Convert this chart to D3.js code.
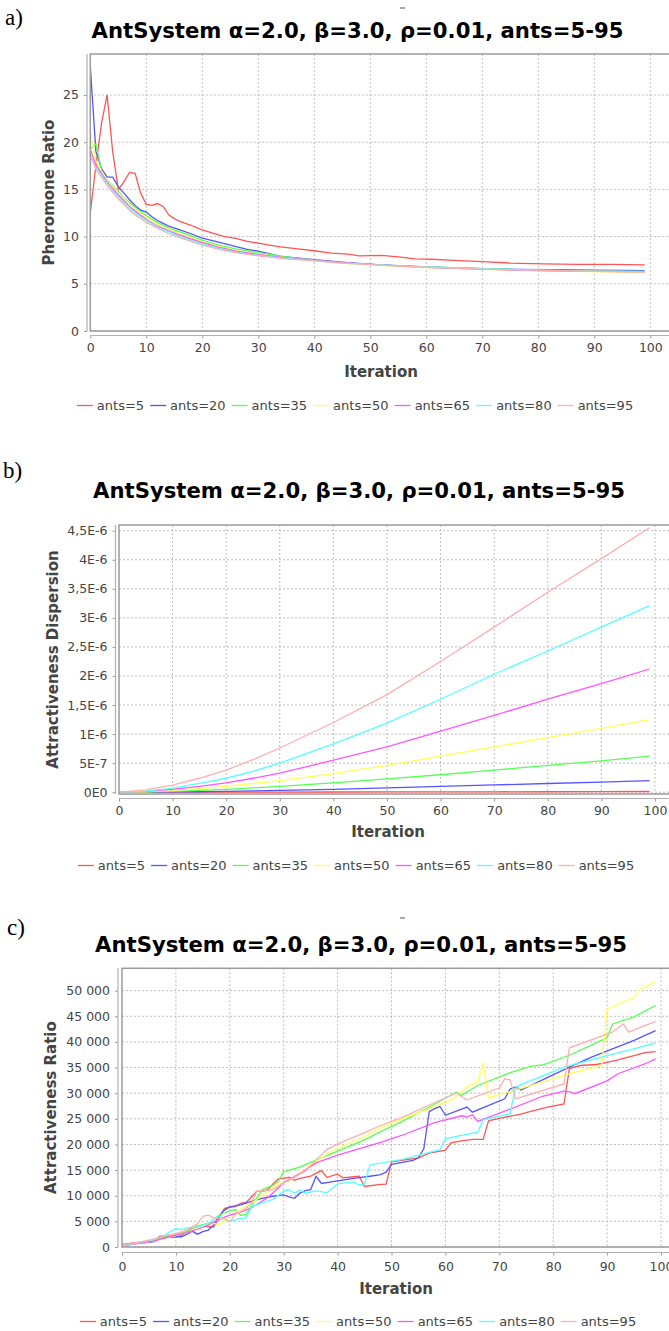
<!DOCTYPE html>
<meta charset="utf-8">
<script src="https://cdn.jsdelivr.net/npm/d3@7"></script>
<style>
  body { margin: 0; background: #fff; }
  svg { display: block; }
  text { font-family: "DejaVu Sans", sans-serif; }
</style>
<div id="chart"></div>
<script>
// series shared by the three charts
var antsLabels = ["ants=5", "ants=20", "ants=35", "ants=50", "ants=65", "ants=80", "ants=95"];
var antsColors = ["#ff5555", "#5555ff", "#55ff55", "#ffff55", "#ff55ff", "#55ffff", "#ffafaf"];
var iterTicks = [0, 10, 20, 30, 40, 50, 60, 70, 80, 90, 100];
var chartTitle = "AntSystem \u03b1=2.0, \u03b2=3.0, \u03c1=0.01, ants=5-95";

// a) pheromone ratio, [iteration, value]
var pherAnts5 = [[0,12.5],[1,17.5],[2,22],[3,25],[4,19],[5,15],[6,15.8],[7,16.8],[8,16.7],[9,14.6],[10,13.4],[11,13.3],[12,13.5],[13,13.2],[14,12.3],[15,11.9],[16,11.6],[17,11.4],[18,11.2],[19,10.95],[20,10.7],[22,10.35],[24,10.0],[26,9.8],[28,9.5],[30,9.3],[32,9.1],[34,8.9],[37,8.7],[40,8.5],[43,8.25],[46,8.15],[48,7.95],[52,8.0],[55,7.85],[58,7.65],[61,7.6],[64,7.5],[70,7.35],[75,7.2],[81,7.12],[87,7.06],[93,7.05],[99,7.0]];
var pherAnts20 = [[0,28],[1,19],[2,17.2],[3,16.3],[4,16.3],[5,15.3],[6,14.6],[7,13.9],[8,13.3],[9,12.8],[10,12.6],[11,12.1],[12,11.7],[13,11.4],[14,11.1],[16,10.7],[18,10.3],[20,9.85],[22,9.55],[25,9.1],[28,8.65],[30,8.45],[34,7.9],[40,7.55],[46,7.25],[52,7.0],[58,6.85],[64,6.7],[70,6.6],[76,6.53],[82,6.5],[90,6.45],[99,6.4]];
var pherAnts35 = [[0,19.3],[1,19.8],[2,17.0],[3,16.0],[4,15.4],[5,14.8],[6,14.1],[7,13.6],[8,13.1],[10,12.2],[12,11.5],[14,10.9],[16,10.5],[18,10.1],[20,9.6],[23,9.1],[26,8.7],[30,8.3],[35,7.85],[40,7.5],[45,7.25],[50,7.05],[55,6.9],[60,6.78],[70,6.6],[80,6.45],[90,6.35],[99,6.28]];
var pherAnts50 = [[0,21],[1,18.0],[2,16.9],[3,16.0],[4,15.3],[5,14.6],[6,14.0],[7,13.4],[8,12.9],[10,12.0],[12,11.3],[14,10.8],[16,10.3],[18,9.9],[20,9.45],[23,8.95],[26,8.55],[30,8.15],[35,7.75],[40,7.45],[45,7.2],[50,7.0],[55,6.85],[60,6.72],[70,6.52],[80,6.38],[90,6.28],[99,6.2]];
var pherAnts65 = [[0,19.2],[1,17.6],[2,16.7],[3,15.8],[4,15.1],[5,14.4],[6,13.8],[7,13.2],[8,12.7],[10,11.8],[12,11.1],[14,10.6],[16,10.15],[18,9.75],[20,9.35],[23,8.85],[26,8.45],[30,8.1],[35,7.75],[40,7.5],[45,7.25],[50,7.05],[55,6.9],[60,6.75],[70,6.55],[80,6.4],[90,6.32],[99,6.28]];
var pherAnts80 = [[0,18.4],[1,17.3],[2,16.5],[3,15.6],[4,14.9],[5,14.2],[6,13.6],[7,13.0],[8,12.5],[10,11.7],[12,11.0],[14,10.5],[16,10.0],[18,9.6],[20,9.2],[23,8.75],[26,8.35],[30,8.0],[35,7.7],[40,7.45],[45,7.2],[50,7.05],[55,6.9],[60,6.78],[70,6.6],[80,6.45],[90,6.35],[99,6.3]];
var pherAnts95 = [[0,18.9],[1,17.1],[2,16.3],[3,15.4],[4,14.7],[5,14.0],[6,13.4],[7,12.8],[8,12.3],[10,11.5],[12,10.9],[14,10.3],[16,9.9],[18,9.5],[20,9.1],[23,8.65],[26,8.3],[30,7.95],[35,7.65],[40,7.42],[45,7.2],[50,7.03],[55,6.88],[60,6.75],[70,6.55],[80,6.42],[90,6.33],[99,6.25]];
var pherTicks = [0, 5, 10, 15, 20, 25];

// b) attractiveness dispersion, sampled at dispIters
var dispIters = [0, 5, 10, 15, 20, 25, 30, 40, 50, 60, 70, 80, 90, 99];
var dispAnts5  = [0, 0, 0.0003e-6, 0.0006e-6, 0.001e-6, 0.0015e-6, 0.002e-6, 0.003e-6, 0.004e-6, 0.005e-6, 0.007e-6, 0.008e-6, 0.01e-6, 0.012e-6];
var dispAnts20 = [0, 0.001e-6, 0.004e-6, 0.008e-6, 0.015e-6, 0.022e-6, 0.03e-6, 0.05e-6, 0.075e-6, 0.1e-6, 0.125e-6, 0.15e-6, 0.175e-6, 0.2e-6];
var dispAnts35 = [0, 0.004e-6, 0.015e-6, 0.03e-6, 0.05e-6, 0.075e-6, 0.1e-6, 0.16e-6, 0.23e-6, 0.3e-6, 0.38e-6, 0.46e-6, 0.54e-6, 0.62e-6];
var dispAnts50 = [0, 0.008e-6, 0.03e-6, 0.06e-6, 0.1e-6, 0.15e-6, 0.2e-6, 0.32e-6, 0.46e-6, 0.62e-6, 0.78e-6, 0.94e-6, 1.1e-6, 1.25e-6];
var dispAnts65 = [0, 0.015e-6, 0.05e-6, 0.1e-6, 0.16e-6, 0.24e-6, 0.33e-6, 0.55e-6, 0.78e-6, 1.05e-6, 1.32e-6, 1.6e-6, 1.87e-6, 2.12e-6];
var dispAnts80 = [0, 0.02e-6, 0.07e-6, 0.15e-6, 0.24e-6, 0.36e-6, 0.5e-6, 0.83e-6, 1.19e-6, 1.6e-6, 2.03e-6, 2.43e-6, 2.84e-6, 3.21e-6];
var dispAnts95 = [0, 0.04e-6, 0.12e-6, 0.24e-6, 0.38e-6, 0.56e-6, 0.76e-6, 1.2e-6, 1.68e-6, 2.25e-6, 2.84e-6, 3.44e-6, 4.02e-6, 4.55e-6];
var dispTicks = [0, 0.5e-6, 1e-6, 1.5e-6, 2e-6, 2.5e-6, 3e-6, 3.5e-6, 4e-6, 4.5e-6];

// c) attractiveness ratio, [iteration, value]
var attrAnts5 = [[0,500],[2,800],[4,1000],[6,1200],[7,2100],[10,2000],[11,2200],[12,3000],[13,3600],[14,4000],[15,4100],[16,4000],[17,3900],[18,5700],[19,7500],[20,7800],[21,7900],[22,8500],[23,8700],[24,9700],[25,10900],[26,10800],[27,11200],[28,12300],[29,13300],[30,13400],[31,13600],[32,13000],[33,13400],[35,13800],[36,14400],[37,14900],[38,13600],[40,14200],[41,13500],[43,13700],[44,13800],[45,11800],[48,12200],[49,12250],[50,16600],[55,17400],[57,18300],[60,18900],[61,20300],[63,20700],[65,21000],[67,21000],[68,24600],[70,25100],[74,25900],[76,26500],[79,27300],[82,27900],[83,34800],[85,35400],[88,35600],[90,36000],[92,36500],[95,37350],[97,37900],[99,38100]];
var attrAnts20 = [[0,200],[3,700],[6,1050],[7,1700],[8,1800],[10,2000],[11,2000],[12,2450],[13,3100],[14,2500],[15,3000],[16,3300],[17,4300],[18,6000],[19,7200],[20,7800],[21,8000],[22,8200],[24,8900],[26,9500],[28,9900],[30,10150],[31,9800],[32,9500],[33,10500],[34,11000],[35,11200],[36,13800],[37,12400],[40,12900],[43,13400],[46,13800],[48,14100],[49,14600],[50,16100],[54,16900],[55,17400],[56,19200],[57,26400],[58,27000],[59,27400],[60,25700],[64,27300],[65,26300],[71,28900],[72,30800],[73,31200],[74,30600],[79,33100],[83,35100],[87,37000],[91,38650],[95,40300],[99,42200]];
var attrAnts35 = [[0,300],[3,800],[6,1300],[8,2000],[10,2450],[12,3000],[14,4100],[16,4600],[18,6200],[20,7100],[21,7300],[22,6200],[23,6300],[24,8000],[25,9600],[26,11200],[28,12000],[29,12800],[30,14700],[33,15600],[35,16500],[40,18700],[45,20900],[48,22500],[52,24500],[57,27300],[61,29600],[62,30200],[63,29600],[66,31500],[72,34000],[76,35300],[78,35500],[83,37400],[89,40300],[90,40800],[91,43500],[95,44900],[99,47100]];
var attrAnts50 = [[0,300],[3,700],[6,1200],[8,1700],[10,2200],[12,2800],[15,4000],[17,4600],[18,4400],[20,6000],[22,7200],[25,9200],[27,10800],[28,11500],[30,12700],[31,12800],[33,14400],[35,16000],[37,17400],[40,19300],[45,21500],[48,23300],[52,25000],[57,27000],[61,28600],[63,30200],[64,31300],[66,32150],[67,35900],[68,29100],[71,30000],[79,32500],[83,33800],[89,35400],[90,46400],[95,48700],[96,50100],[99,51750]];
var attrAnts65 = [[0,300],[3,700],[6,1200],[8,1800],[10,2300],[12,2800],[15,3800],[18,5400],[20,6200],[22,6800],[24,7600],[25,8300],[27,9600],[29,11500],[30,12600],[33,14300],[36,16400],[40,17900],[45,19500],[48,20400],[52,21800],[58,24250],[63,25600],[64,25350],[65,25800],[66,24500],[72,26900],[78,29400],[82,30400],[83,30300],[84,29900],[90,32400],[92,33800],[97,35700],[99,36700]];
var attrAnts80 = [[0,300],[3,800],[6,1500],[8,2300],[9,3000],[10,3600],[11,3400],[12,3750],[14,3900],[16,4600],[18,6100],[19,5500],[20,5000],[22,5600],[23,5700],[24,7800],[26,8600],[28,9300],[30,10900],[31,11200],[32,10500],[33,11100],[34,10500],[36,10950],[38,10600],[40,12300],[43,12700],[44,12100],[45,12300],[46,16000],[52,17100],[59,19000],[60,21150],[66,22400],[67,24800],[72,26000],[73,31200],[76,32500],[82,35100],[90,37350],[99,39750]];
var attrAnts95 = [[0,400],[3,900],[6,1600],[8,2200],[10,2600],[12,3300],[14,4500],[15,6000],[16,6200],[17,5700],[19,5500],[20,4900],[21,6300],[23,7500],[24,8500],[25,10900],[26,10900],[28,11200],[30,12500],[32,13600],[34,14800],[36,17000],[38,19000],[40,20100],[45,22300],[48,23700],[52,25300],[57,27700],[62,30000],[64,28700],[70,31000],[71,32800],[72,32600],[73,28900],[82,31800],[83,38850],[91,41900],[93,43500],[94,41900],[99,44000]];
var attrTicks = [0, 5000, 10000, 15000, 20000, 25000, 30000, 35000, 40000, 45000, 50000];

var spaceLocale = d3.formatLocale({decimal: ",", thousands: " ", grouping: [3], currency: ["", ""]});

// JFreeChart style scientific labels: 0E0, 5E-7, 1,5E-6
function sciFormat(v) {
    if (v === 0) return "0E0";
    var e = Math.floor(Math.log10(v) + 1e-9);
    var m = Math.round(v / Math.pow(10, e) * 1000) / 1000;
    return String(m).replace(".", ",") + "E" + e;
}

var svg = d3.select("#chart")
    .append("svg")
    .attr("width", 669)
    .attr("height", 1331);

function drawPanel(p, idx) {
    var g = svg.append("g");
    var x = d3.scaleLinear().domain(p.xDomain).range([p.left, p.right]);
    var y = d3.scaleLinear().domain(p.yDomain).range([p.bottom, p.top]);

    // panel letter
    g.append("text")
        .attr("x", p.letterX).attr("y", p.letterY)
        .style("font-family", "'Liberation Serif', serif")
        .style("font-size", "23px")
        .text(p.letter);

    // title
    var title = g.append("text")
        .attr("x", p.titleX).attr("y", p.titleY)
        .attr("text-anchor", "middle")
        .style("font-weight", "bold")
        .style("font-size", "20px")
        .style("fill", "#000")
        .text(chartTitle);
    var tw = title.node().getComputedTextLength();
    title.style("font-size", (20 * 532 / tw) + "px");

    if (p.dash) {
        g.append("line")
            .attr("x1", 400).attr("x2", 405)
            .attr("y1", p.dash).attr("y2", p.dash)
            .style("stroke", "#555").style("stroke-width", 1);
    }

    var clipId = "clip" + idx;
    g.append("clipPath").attr("id", clipId)
        .append("rect")
        .attr("x", p.left).attr("y", p.top)
        .attr("width", p.right - p.left).attr("height", p.bottom - p.top);

    // grid
    g.append("g").selectAll("line")
        .data(iterTicks.filter(function(t) { return t > 0; }))
        .enter().append("line")
        .attr("x1", function(d) { return x(d); }).attr("x2", function(d) { return x(d); })
        .attr("y1", p.top).attr("y2", p.bottom)
        .style("stroke", "#bdbdbd").style("stroke-dasharray", "2,2");
    g.append("g").selectAll("line")
        .data(p.yTicks)
        .enter().append("line")
        .attr("x1", p.left).attr("x2", p.right)
        .attr("y1", function(d) { return y(d); }).attr("y2", function(d) { return y(d); })
        .style("stroke", "#bdbdbd").style("stroke-dasharray", "2,2");

    // series
    var line = d3.line()
        .x(function(d) { return x(d[0]); })
        .y(function(d) { return y(d[1]); });
    g.append("g").attr("clip-path", "url(#" + clipId + ")")
        .selectAll("path")
        .data(p.series)
        .enter().append("path")
        .attr("d", line)
        .style("fill", "none")
        .style("stroke", function(d, i) { return antsColors[i]; })
        .style("stroke-width", 1.3);

    // plot outline
    g.append("rect")
        .attr("x", p.left).attr("y", p.top)
        .attr("width", p.right - p.left).attr("height", p.bottom - p.top)
        .style("fill", "none").style("stroke", "#9a9a9a").style("stroke-width", 1.5);

    // x axis
    var xAxis = g.append("g")
        .attr("transform", "translate(0," + p.xAxisY + ")")
        .call(d3.axisBottom(x).tickValues(iterTicks).tickSizeInner(3).tickSizeOuter(0).tickPadding(p.xPad));
    xAxis.select(".domain").remove();
    xAxis.append("line")
        .attr("x1", p.left).attr("x2", p.right)
        .style("stroke", "#b0b0b0").style("stroke-width", 1.2);
    // y axis
    var yAxis = g.append("g")
        .attr("transform", "translate(" + p.yAxisX + ",0)")
        .call(d3.axisLeft(y).tickValues(p.yTicks).tickFormat(p.yFormat).tickSizeInner(3).tickSizeOuter(0).tickPadding(5));
    yAxis.select(".domain").remove();
    yAxis.append("line")
        .attr("y1", p.top).attr("y2", p.bottom)
        .style("stroke", "#b0b0b0").style("stroke-width", 1.2);
    g.selectAll(".tick line").style("stroke", "#999");
    g.selectAll(".tick text")
        .style("font-family", "'DejaVu Sans', sans-serif")
        .style("font-size", "12.5px")
        .style("fill", "#444");

    // axis titles
    g.append("text")
        .attr("x", p.xTitleX).attr("y", p.xTitleY)
        .attr("text-anchor", "middle")
        .style("font-weight", "bold").style("font-size", "15px").style("fill", "#444")
        .text("Iteration");
    g.append("text")
        .attr("transform", "translate(" + p.yTitleX + "," + ((p.top + p.bottom) / 2) + ") rotate(-90)")
        .attr("text-anchor", "middle")
        .style("font-weight", "bold").style("font-size", "15px").style("fill", "#444")
        .text(p.yTitle);

    // legend
    var leg = g.append("g");
    var items = leg.selectAll("g").data(antsLabels).enter().append("g");
    items.append("line")
        .attr("x1", 0).attr("x2", 16)
        .attr("y1", p.legendY - 4.5).attr("y2", p.legendY - 4.5)
        .style("stroke", function(d, i) { return antsColors[i]; })
        .style("stroke-width", 1.3);
    items.append("text")
        .attr("x", 20).attr("y", p.legendY)
        .style("font-size", "13px").style("fill", "#444")
        .text(function(d) { return d; });
    var pos = 0, offs = [];
    items.each(function() {
        offs.push(pos);
        pos += 20 + d3.select(this).select("text").node().getComputedTextLength() + 6;
    });
    var start = p.legendX - (pos - 6) / 2;
    items.attr("transform", function(d, i) { return "translate(" + (start + offs[i]) + ",0)"; });
}

var panels = [
    {
        letter: "a)", letterX: 5, letterY: 25, dash: 8,
        titleX: 357.5, titleY: 38,
        left: 90.3, right: 672.7, top: 54, bottom: 331,
        xDomain: [0, 104], yDomain: [0, 29.34],
        xAxisY: 335.5, yAxisX: 87, xPad: 4.5,
        yTicks: pherTicks, yFormat: d3.format("d"),
        series: [pherAnts5, pherAnts20, pherAnts35, pherAnts50, pherAnts65, pherAnts80, pherAnts95],
        xTitleX: 381, xTitleY: 377, yTitle: "Pheromone Ratio", yTitleX: 54,
        legendX: 355, legendY: 410
    },
    {
        letter: "b)", letterX: 3, letterY: 478, dash: null,
        titleX: 359, titleY: 498.3,
        left: 119, right: 671, top: 525, bottom: 794,
        xDomain: [0, 103], yDomain: [-0.031e-6, 4.598e-6],
        xAxisY: 798.5, yAxisX: 115.5, xPad: 4.5,
        yTicks: dispTicks, yFormat: sciFormat,
        series: [dispAnts5, dispAnts20, dispAnts35, dispAnts50, dispAnts65, dispAnts80, dispAnts95]
            .map(function(s) { return s.map(function(v, i) { return [dispIters[i], v]; }); }),
        xTitleX: 388, xTitleY: 837, yTitle: "Attractiveness Dispersion", yTitleX: 58,
        legendX: 356, legendY: 870
    },
    {
        letter: "c)", letterX: 7, letterY: 935, dash: 918,
        titleX: 361, titleY: 951.7,
        left: 122, right: 671.8, top: 968.3, bottom: 1247,
        xDomain: [0, 102], yDomain: [0, 54360],
        xAxisY: 1252.5, yAxisX: 118, xPad: 6.5,
        yTicks: attrTicks, yFormat: spaceLocale.format(",d"),
        series: [attrAnts5, attrAnts20, attrAnts35, attrAnts50, attrAnts65, attrAnts80, attrAnts95],
        xTitleX: 396, xTitleY: 1294, yTitle: "Attractiveness Ratio", yTitleX: 56,
        legendX: 358, legendY: 1326
    }
];

panels.forEach(drawPanel);
</script>
